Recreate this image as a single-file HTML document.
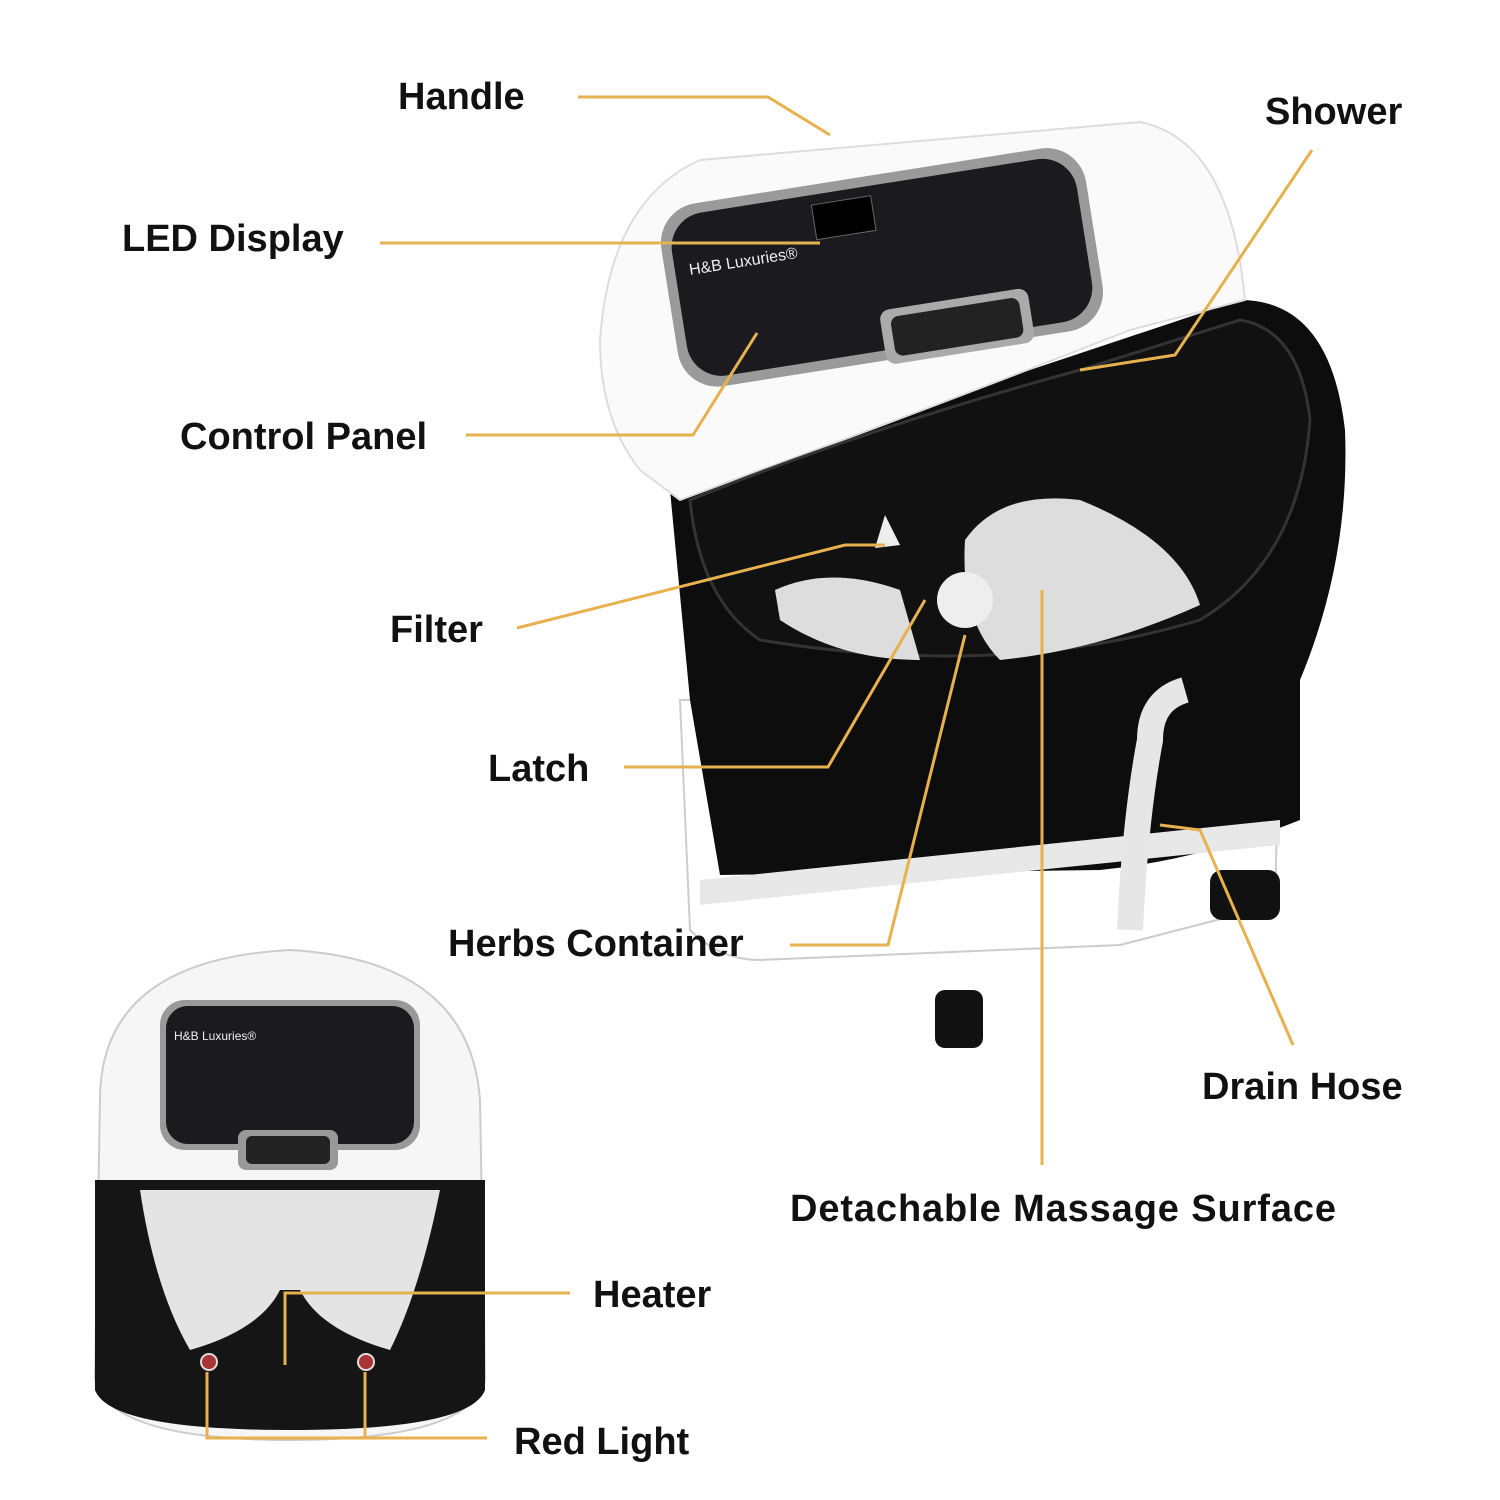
<!DOCTYPE html>
<html><head><meta charset="utf-8"><style>
html,body{margin:0;padding:0;background:#fff;}
svg{display:block;}
text{font-family:"Liberation Sans",sans-serif;font-weight:bold;font-size:38px;fill:#111;}
.l{fill:none;stroke:#E8B14F;stroke-width:3;}
</style></head><body>
<svg width="1500" height="1500" viewBox="0 0 1500 1500">
<!-- main unit -->
<path d="M680,700 L690,930 Q720,960 760,960 L1120,945 L1275,905 L1280,700 Z" fill="#fff" stroke="#ccc" stroke-width="2"/>
<path d="M670,490 L1240,300 Q1330,300 1345,430 Q1350,560 1300,680 L1300,820 Q1200,860 1100,870 L720,875 L690,700 Z" fill="#0d0d0d"/>
<path d="M700,880 L1280,820 L1280,845 L700,905 Z" fill="#e8e8e8"/>
<path d="M600,340 Q610,200 700,160 L1140,122 Q1230,140 1245,300 L1130,330 Q900,420 760,470 L680,500 L640,470 Q600,420 600,340 Z" fill="#fafafa" stroke="#ddd" stroke-width="2"/>
<path d="M690,500 Q860,430 1080,370 L1240,320 Q1300,330 1310,420 Q1300,560 1200,620 Q1000,680 760,640 Q700,600 690,500 Z" fill="#111" stroke="#333" stroke-width="3"/>
<path d="M965,540 Q1000,490 1080,500 Q1180,540 1200,605 Q1100,650 1000,660 Q960,620 965,540 Z" fill="#ddd"/>
<path d="M775,590 Q830,565 900,590 L920,660 Q840,660 780,620 Z" fill="#ddd"/>
<circle cx="965" cy="600" r="28" fill="#eee"/>
<path d="M885,515 L900,545 L875,548 Z" fill="#eee"/>
<g transform="rotate(-9 880 255)">
<rect x="665" y="175" width="430" height="185" rx="40" fill="#9a9a9a"/>
<rect x="675" y="185" width="410" height="165" rx="35" fill="#1b1b1f"/>
<rect x="870" y="310" width="150" height="55" rx="10" fill="#aaa"/>
<rect x="880" y="318" width="130" height="40" rx="8" fill="#222"/>
<rect x="820" y="195" width="60" height="35" fill="#000" stroke="#666"/>
</g>
<path d="M1185,690 Q1150,700 1150,740 Q1135,820 1130,930" fill="none" stroke="#e6e6e6" stroke-width="26"/>
<rect x="935" y="990" width="48" height="58" rx="10" fill="#111"/>
<rect x="1210" y="870" width="70" height="50" rx="12" fill="#111"/>
<!-- small unit -->
<path d="M100,1100 Q100,960 290,950 Q470,960 480,1100 L485,1380 Q470,1440 290,1440 Q110,1440 95,1380 Z" fill="#f6f6f6" stroke="#ccc" stroke-width="2"/>
<rect x="160" y="1000" width="260" height="150" rx="25" fill="#999"/>
<rect x="166" y="1006" width="248" height="138" rx="22" fill="#1b1b1f"/>
<rect x="238" y="1130" width="100" height="40" rx="8" fill="#999"/>
<rect x="246" y="1136" width="84" height="28" rx="6" fill="#222"/>
<path d="M95,1180 L485,1180 L485,1390 Q470,1430 290,1430 Q110,1430 95,1390 Z" fill="#151515"/>
<path d="M140,1190 L440,1190 Q420,1290 390,1350 Q320,1330 300,1290 L280,1290 Q260,1330 190,1350 Q155,1290 140,1190 Z" fill="#e4e4e4"/>
<circle cx="209" cy="1362" r="8" fill="#a33" stroke="#ddd" stroke-width="2"/>
<circle cx="366" cy="1362" r="8" fill="#a33" stroke="#ddd" stroke-width="2"/>
<text x="174" y="1040" style="font-size:12px;font-weight:normal;fill:#eee">H&amp;B Luxuries®</text>
<text x="690" y="275" transform="rotate(-9 690 275)" style="font-size:16px;font-weight:normal;fill:#eee">H&amp;B Luxuries®</text>
<!-- leader lines -->
<polyline class="l" points="578,97 768,97 830,135"/>
<polyline class="l" points="1312,150 1175,355 1080,370"/>
<polyline class="l" points="380,243 820,243"/>
<polyline class="l" points="466,435 693,435 757,333"/>
<polyline class="l" points="517,628 845,545 885,545"/>
<polyline class="l" points="624,767 828,767 925,600"/>
<polyline class="l" points="790,945 888,945 965,635"/>
<polyline class="l" points="1042,1165 1042,590"/>
<polyline class="l" points="1293,1045 1200,830 1160,825"/>
<polyline class="l" points="570,1293 285,1293 285,1365"/>
<polyline class="l" points="487,1438 207,1438 207,1372"/>
<polyline class="l" points="365,1372 365,1438"/>
<!-- labels -->
<text x="398" y="109">Handle</text>
<text x="1265" y="124">Shower</text>
<text x="122" y="251">LED Display</text>
<text x="180" y="449">Control Panel</text>
<text x="390" y="642">Filter</text>
<text x="488" y="781">Latch</text>
<text x="448" y="956">Herbs Container</text>
<text x="1202" y="1099">Drain Hose</text>
<text x="790" y="1221" textLength="546">Detachable Massage Surface</text>
<text x="593" y="1307">Heater</text>
<text x="514" y="1454">Red Light</text>
</svg>
</body></html>
